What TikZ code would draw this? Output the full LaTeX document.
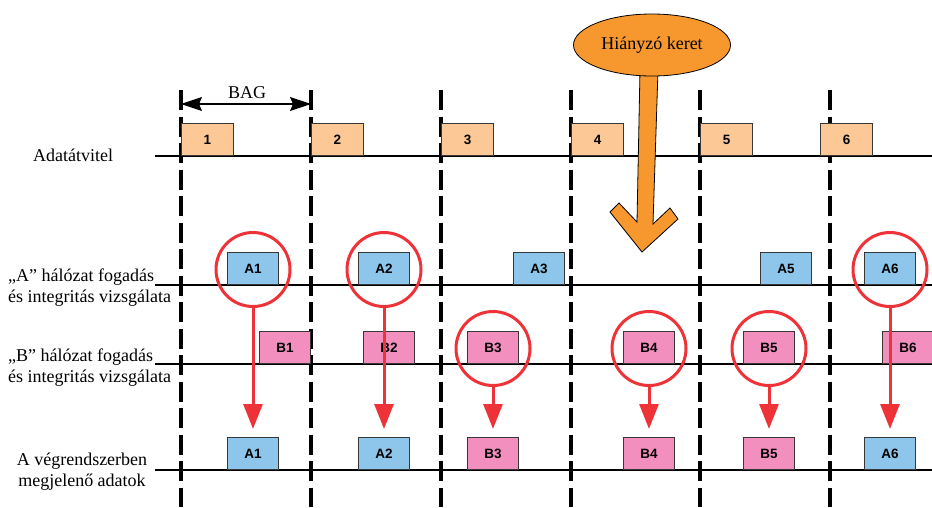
\documentclass[tikz,border=0pt]{standalone}
\usepackage{fontspec}
\setmainfont{Liberation Serif}
\newfontfamily\boxsans{Liberation Sans}
\usetikzlibrary{arrows.meta,shapes.geometric}

\definecolor{framefill}{HTML}{FCC896}
\definecolor{afill}{HTML}{8EC5EA}
\definecolor{bfill}{HTML}{F28FBF}
\definecolor{boxedge}{HTML}{383838}
\definecolor{markred}{HTML}{EE3338}
\definecolor{missorange}{HTML}{F7982F}

\begin{document}
\begin{tikzpicture}[x=1pt,y=-1pt,
  pkt/.style={draw=boxedge, line width=1pt, minimum width=52pt, minimum height=32pt,
    inner sep=0pt, anchor=south west, font=\boxsans\bfseries\fontsize{13.5}{14}\selectfont},
  frame/.style={pkt, fill=framefill},
  apkt/.style={pkt, fill=afill, minimum width=51pt},
  bpkt/.style={pkt, fill=bfill, minimum width=51pt},
  ring/.style={circle, draw=markred, line width=3pt, minimum size=74pt, inner sep=0pt, outer sep=0pt},
  pick/.style={draw=markred, line width=3pt, -{Triangle[length=25pt,width=19pt]}, shorten >=8pt},
  timeline/.style={draw=black, line width=1.4pt},
  slot/.style={draw=black, line width=3.5pt, dash pattern=on 20pt off 6.5pt},
  lbl/.style={font=\fontsize{18}{21}\selectfont, inner sep=0pt},
]
\useasboundingbox (0,0) rectangle (932,507);

% time lines
\foreach \y/\n in {156/t0,285/tA,364/tB,470/tF}{
  \coordinate (\n s) at (155,\y);
  \coordinate (\n e) at (932,\y);
  \draw[timeline] (\n s) -- (\n e);
}

% BAG slot boundaries
\foreach \x [count=\i] in {181,311,441,571,700,830}{
  \coordinate (slot\i t) at (\x,90);
  \coordinate (slot\i b) at (\x,507);
  \draw[slot] (slot\i t) -- (slot\i b);
}

% BAG span
\coordinate (bagL) at (181,104);
\coordinate (bagR) at (311,104);
\draw[line width=1.2pt, {Stealth[length=21pt,width=14pt,inset=3pt]}-{Stealth[length=21pt,width=14pt,inset=3pt]}] (bagL) -- (bagR);
\node[lbl, anchor=base] (bag) at (247,98) {BAG};

% row labels (base anchor sits on the last line)
\node[lbl, anchor=base west] (l0) at (33,161) {Adatátvitel};
\node[lbl, anchor=base west, align=left] (lA) at (8,302) {„A” hálózat fogadás\\és integritás vizsgálata};
\node[lbl, anchor=base west, align=left] (lB) at (8,382) {„B” hálózat fogadás\\és integritás vizsgálata};
\node[lbl, anchor=base, align=center] (lF) at (82,486) {A végrendszerben\\megjelenő adatok};

% transmitted frames
\node[frame] (f1) at (181,156) {1};
\node[frame] (f2) at (311,156) {2};
\node[frame] (f3) at (441,156) {3};
\node[frame] (f4) at (571,156) {4};
\node[frame] (f5) at (700,156) {5};
\node[frame] (f6) at (820,156) {6};

% network A reception
\node[apkt] (A1) at (227,285) {A1};
\node[apkt] (A2) at (358,285) {A2};
\node[apkt] (A3) at (513,285) {A3};
\node[apkt] (A5) at (760,285) {A5};
\node[apkt] (A6) at (864,285) {A6};

% network B reception
\node[bpkt] (B1) at (259,364) {B1};
\node[bpkt] (B2) at (363,364) {B2};
\node[bpkt] (B3) at (467,364) {B3};
\node[bpkt] (B4) at (623,364) {B4};
\node[bpkt] (B5) at (743,364) {B5};
\node[bpkt] (B6) at (882,364) {B6};

% data delivered to the end system
\node[apkt] (oA1) at (227,470) {A1};
\node[apkt] (oA2) at (358,470) {A2};
\node[bpkt] (oB3) at (467,470) {B3};
\node[bpkt] (oB4) at (623,470) {B4};
\node[bpkt] (oB5) at (743,470) {B5};
\node[apkt] (oA6) at (864,470) {A6};

% selected packets
\foreach \p/\o in {A1/oA1,A2/oA2,B3/oB3,B4/oB4,B5/oB5,A6/oA6}{
  \node[ring] (c\p) at ([yshift=-1pt]\p.center) {};
  \draw[pick] (c\p.south) -- (\o.north);
}

% missing frame callout
\draw[fill=missorange, draw=black, line width=0.8pt, line join=miter]
  (640,70) -- (637,222) -- (619,203) -- (610,212) -- (642,252)
  -- (678,219) -- (670,208) -- (653,224) -- (658,70) -- cycle;
\node[ellipse, draw=black, line width=0.8pt, fill=missorange, minimum width=157pt,
  minimum height=62pt, inner sep=0pt, font=\fontsize{18}{21}\selectfont] (miss) at (652,45) {Hiányzó keret};

\end{tikzpicture}
\end{document}
